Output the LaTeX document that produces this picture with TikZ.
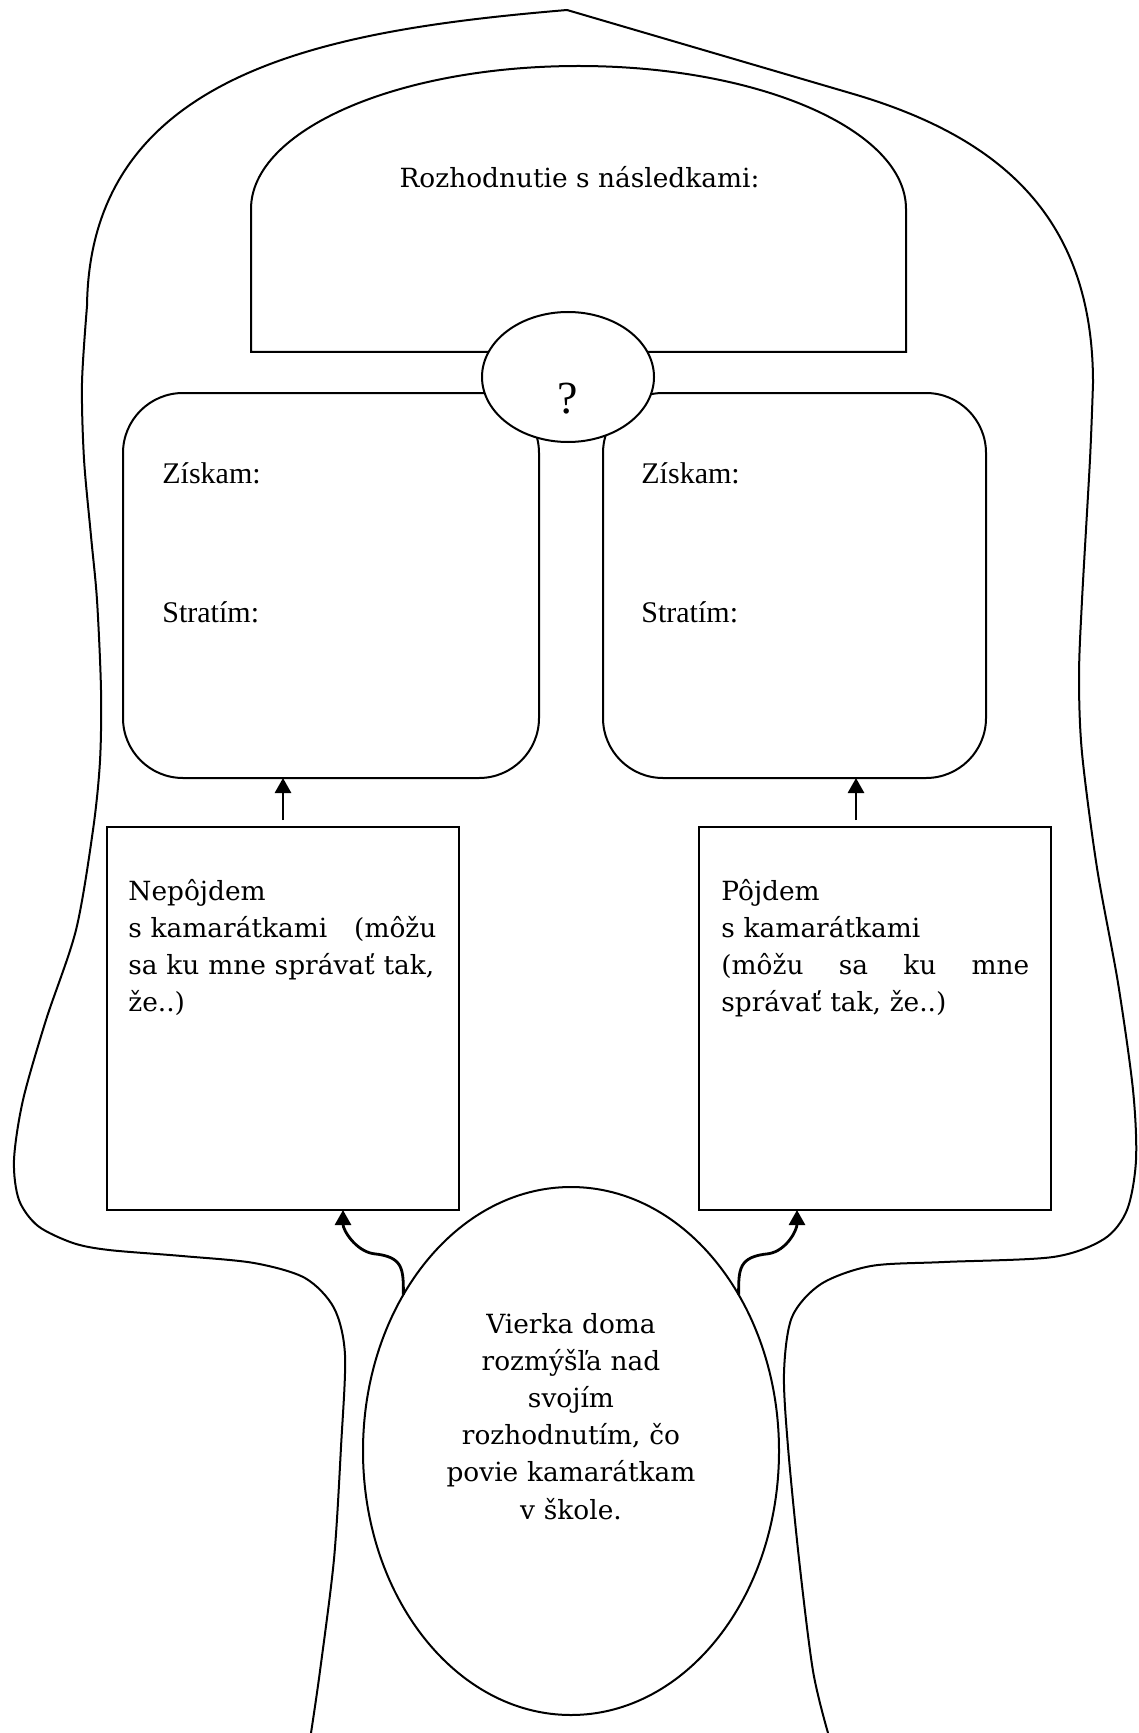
\documentclass[tikz,border=0pt]{standalone}
\usepackage{fontspec}
\usepackage{tikz}
\newfontfamily\timesf{Liberation Serif}
\newfontfamily\cambf{DejaVu Serif}
\newcommand{\textsz}{\cambf\fontsize{13.2}{18.6}\selectfont}
\usetikzlibrary{shapes, arrows.meta, positioning, calc}
\tikzstyle{obrys} = [line width=1pt]
\tikzstyle{bilancia} = [draw, line width=1pt, rectangle, rounded corners=30pt, minimum height=192.5pt, inner sep=0pt, outer sep=0pt]
\tikzstyle{volba} = [draw, line width=1pt, rectangle, minimum width=176pt, minimum height=191.5pt, inner sep=0pt, outer sep=0pt]
\tikzstyle{otazka} = [draw, fill=white, line width=1pt, ellipse, minimum width=86pt, minimum height=65pt, inner sep=0pt, outer sep=0pt]
\tikzstyle{myslienka} = [draw, line width=1pt, ellipse, minimum width=208pt, minimum height=264pt, inner sep=0pt, outer sep=0pt]
\tikzstyle{popis} = [font=\timesf\fontsize{15}{18}\selectfont, anchor=base west, inner sep=0pt]
\tikzstyle{veta} = [font=\textsz, inner sep=0pt]
\tikzstyle{sipka} = [line width=1.4pt, -{Triangle[width=8pt,length=7.5pt]}]

\begin{document}
\begin{tikzpicture}[x=0.5pt, y=-0.5pt]
	\useasboundingbox (0,0) rectangle (1139,1733);
	% obrys postavy
	\draw[obrys] (567,10) .. controls (330,30) and (90,70) .. (87,306)
		plot[smooth] coordinates {(87,306) (82,383) (84,459) (91,536) (97,600) (101,690) (100,761) (93,830) (76,930) (46,1020) (23,1100) (14,1160) (19,1200) (38,1226) (73,1243) (109,1250) (182,1256) (254,1263) (305,1278) (334,1308) (345,1355) (341,1447) (334,1559) (320,1671) (311,1733)};
	\draw[obrys] (567,10) -- (850,93) .. controls (1004,137.5) and (1093,220) .. (1093,383)
		plot[smooth] coordinates {(1093,383) (1090,459) (1082,600) (1079,677) (1082,753) (1097,868) (1118,983) (1133,1090) (1136,1160) (1127,1210) (1104,1239) (1053,1257) (944,1262) (871,1266) (821,1284) (792,1317) (784,1373) (788,1447) (799,1559) (813,1671) (828,1733)};
	% hlava
	\draw[obrys] (251,352) -- (251,209) arc[start angle=180, end angle=0, x radius=163.75pt, y radius=71.5pt] -- (906,352) -- cycle;
	\node[veta, anchor=base] (rozhodnutie) at (579.5,188) {Rozhodnutie s následkami:};
	% ziskam / stratim
	\node[bilancia, minimum width=208pt] (bilL) at (331,585.5) {};
	\node[bilancia, minimum width=191.5pt] (bilP) at (794.5,585.5) {};
	\node[otazka] (otazka) at (568,377) {};
	\node[font=\timesf\fontsize{23}{23}\selectfont, anchor=base, inner sep=0pt] (znak) at (568,413) {?};
	\node[popis] (ziskL) at (162,483) {Získam:};
	\node[popis] (stratL) at (162,622) {Stratím:};
	\node[popis] (ziskP) at (641,483) {Získam:};
	\node[popis] (stratP) at (641,622) {Stratím:};
	% moznosti
	\node[volba] (nepojdem) at (283,1018.5) {};
	\node[volba] (pojdem) at (875,1018.5) {};
	\node[veta, text width=154pt, align=left, anchor=base west] (textL) at (128,900) {Nepôjdem\\ s kamarátkami\hfill(môžu\\ sa ku mne správať tak,\\ že..)};
	\node[veta, text width=154pt, align=left, anchor=base west] (textP) at (721,900) {Pôjdem\\ s kamarátkami\\ (môžu\hfill sa\hfill ku\hfill mne\\ správať tak, že..)};
	\coordinate (pojdemTop) at ([xshift=-9.5pt]pojdem.north);
	\draw[sipka, shorten <=3.5pt] (nepojdem.north) -- (nepojdem.north |- bilL.south);
	\draw[sipka, shorten <=3.5pt] (pojdemTop) -- (pojdemTop |- bilP.south);
	% Vierka
	\node[myslienka] (vierka) at (571,1451) {};
	\node[veta, text width=150pt, align=center, anchor=base] (vierkaText) at (571,1333) {Vierka doma\\ rozmýšľa nad\\ svojím\\ rozhodnutím, čo\\ povie kamarátkam\\ v škole.};
	\draw[sipka] (vierka.137) .. controls +(0,-26) and +(30,3) .. ++(-30,-41) .. controls +(-18,-3) and +(0,20) .. ([xshift=30pt]nepojdem.south);
	\draw[sipka] (vierka.43) .. controls +(0,-26) and +(-30,3) .. ++(30,-41) .. controls +(18,-3) and +(0,20) .. ([xshift=-39pt]pojdem.south);
\end{tikzpicture}
\end{document}
